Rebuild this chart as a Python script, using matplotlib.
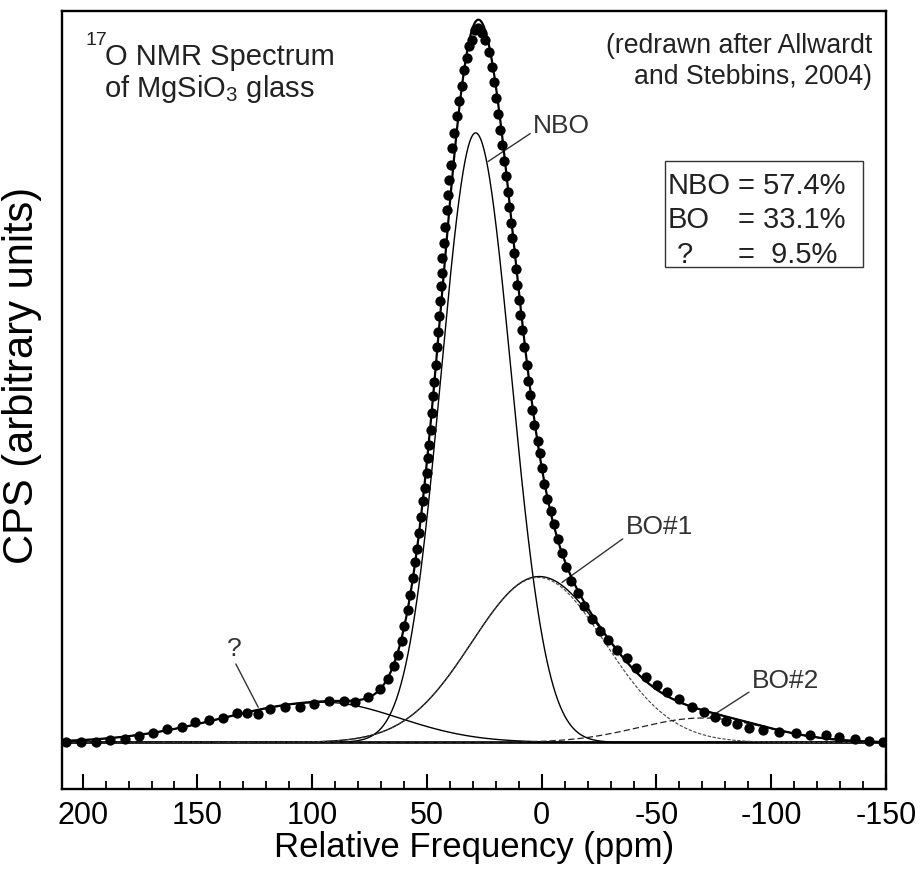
import matplotlib
matplotlib.use('Agg')
import matplotlib.pyplot as plt
from matplotlib.patches import Rectangle
import numpy as np

plt.rcParams['font.family'] = ['Liberation Sans', 'DejaVu Sans']
plt.rcParams['mathtext.fontset'] = 'custom'
plt.rcParams['mathtext.rm'] = 'Liberation Sans'
plt.rcParams['mathtext.it'] = 'Liberation Sans:italic'

dot_ppm = [207.4, 200.9, 194.3, 188.1, 181.6, 175.5, 169.2, 163.1, 156.9, 151.1,
           144.8, 138.7, 132.9, 128.3, 123.5, 118.4, 111.9, 105.3, 99.2, 92.8,
           86.1, 81.4, 75.6, 70.5, 66.8, 64.4, 62.5, 61.0, 59.9, 58.3,
           57.3, 56.2, 55.3, 54.2, 53.3, 52.6, 51.9, 50.8, 50.1, 49.7,
           49.0, 48.4, 47.9, 47.5, 46.8, 46.1, 45.8, 45.1, 44.8, 44.3,
           44.0, 43.6, 43.3, 42.7, 42.1, 41.3, 40.7, 40.3, 39.7, 39.0,
           38.1, 37.0, 36.0, 34.9, 33.7, 32.7, 31.5, 30.5, 29.0, 27.6,
           26.2, 24.7, 23.0, 21.8, 20.7, 19.9, 19.2, 18.2, 17.2, 16.4,
           15.7, 14.8, 14.2, 13.4, 12.8, 11.9, 11.3, 10.6, 9.9, 9.5,
           8.7, 7.6, 6.5, 5.8, 5.1, 4.1, 3.2, 1.7, 0.7, -0.3,
           -1.1, -2.4, -3.9, -5.4, -7.0, -8.7, -10.6, -12.8, -15.7, -18.4,
           -22.0, -25.4, -29.0, -32.9, -37.0, -41.1, -45.4, -50.1, -54.7, -59.8,
           -65.4, -70.7, -75.5, -80.3, -85.0, -90.5, -96.6, -103.4, -110.6, -116.9,
           -123.9, -129.7, -136.5, -142.8, -148.8]
dot_cps = [0.0, 0.1, 0.1, 0.3, 0.5, 0.9, 1.3, 1.8, 2.1, 2.8,
           3.1, 3.4, 4.1, 4.1, 4.0, 4.6, 4.9, 5.0, 5.4, 5.8,
           5.8, 5.7, 6.3, 7.4, 8.8, 10.6, 12.2, 14.2, 16.3, 18.5,
           20.6, 22.9, 25.1, 27.0, 29.2, 31.4, 33.6, 35.5, 37.6, 39.7,
           41.5, 43.6, 45.9, 48.3, 50.3, 52.7, 55.2, 57.3, 59.4, 61.6,
           63.7, 65.4, 67.5, 69.7, 71.9, 74.3, 76.4, 78.5, 80.5, 82.9,
           85.0, 87.3, 89.5, 91.6, 93.8, 95.5, 97.1, 98.0, 99.3, 99.6,
           99.0, 97.9, 96.3, 94.2, 92.1, 89.8, 87.6, 85.4, 83.3, 81.1,
           79.0, 76.8, 74.7, 72.5, 70.4, 68.2, 66.0, 63.8, 61.7, 59.6,
           57.5, 55.2, 52.6, 50.4, 48.4, 46.4, 44.3, 42.1, 40.3, 38.2,
           36.0, 33.9, 32.3, 30.4, 28.4, 26.4, 24.4, 22.5, 20.8, 19.0,
           17.2, 15.6, 14.3, 12.9, 11.7, 10.4, 9.1, 8.0, 7.0, 6.0,
           5.0, 4.2, 3.6, 3.0, 2.5, 2.0, 1.7, 1.4, 1.3, 1.1,
           1.1, 0.7, 0.5, 0.2, 0.1]

# fitted Gaussian components: position, height, half-widths (left / right side)
comp_names = ['NBO', 'BO#1', 'BO#2', '?']
comp_center = [28.8, 1.5, -70.0, 95.0]
comp_height = [85.0, 23.0, 3.4, 5.6]
comp_sigma_left = [15.0, 29.0, 28.0, 44.0]
comp_sigma_right = [15.5, 29.0, 28.0, 33.0]

# component fractions printed in the box
frac_labels = ['NBO', 'BO', '?']
frac_values = ['= 57.4%', '= 33.1%', '=  9.5%']

W, H = 922, 873
TXT = '#222222'


def gauss(x, c, h, sl, sr):
    s = np.where(x > c, sl, sr)
    return h * np.exp(-(x - c) ** 2 / (2 * s ** 2))


def fx(px):
    return px / W


def fy(py):
    return 1 - py / H


x = np.linspace(209, -150, 1500)
comps = {n: gauss(x, c, h, sl, sr) for n, c, h, sl, sr in
         zip(comp_names, comp_center, comp_height, comp_sigma_left, comp_sigma_right)}
bo_total = comps['BO#1'] + comps['BO#2']
total = comps['NBO'] + bo_total + comps['?']

fig = plt.figure(figsize=(W / 100, H / 100), dpi=100)
ax = fig.add_axes([fx(62), fy(789), fx(886) - fx(62), fy(11) - fy(789)])

ax.axhline(0, color='black', lw=1.9, zorder=2)
ax.plot(x, comps['NBO'], color='black', lw=1.0, zorder=3)
ax.plot(x, comps['?'], color='black', lw=1.0, zorder=3)
ax.plot(x, bo_total, color='black', lw=1.0, zorder=3)
ax.plot(x, comps['BO#1'], color='#444444', lw=0.8, ls=(0, (3, 1.5)), zorder=3)
ax.plot(x, comps['BO#2'], color='#222222', lw=0.9, ls=(0, (5, 2.5)), zorder=3)
ax.plot(x, total, color='black', lw=1.6, zorder=4)
ax.plot(dot_ppm, dot_cps, 'o', color='black', ms=7.4, mec='none', zorder=5)

ax.set_xlim(209, -150)
ax.set_ylim(-6.5, 102.0)
ax.set_xticks(np.arange(200, -151, -50))
ax.set_xticks(np.arange(200, -151, -10), minor=True)
ax.set_xticklabels([str(v) for v in range(200, -151, -50)])
ax.set_yticks([])
ax.tick_params(axis='x', which='both', direction='in', top=False, labelsize=22, pad=9)
ax.tick_params(axis='x', which='major', length=11, width=1.5)
ax.tick_params(axis='x', which='minor', length=6, width=1.3)
for sp in ax.spines.values():
    sp.set_linewidth(1.7)

ax.set_xlabel('Relative Frequency (ppm)', fontsize=25, labelpad=0)
ax.set_ylabel('CPS (arbitrary units)', fontsize=30)
ax.yaxis.set_label_coords(-0.024, 0.532)

# labels with leader lines
line_kw = dict(arrowstyle='-', color='#333333', lw=1.0, shrinkA=0, shrinkB=0)
ax.annotate('NBO', xy=(23.4, 81.0), xytext=(3.8, 86.0), fontsize=19, color='#333333',
            va='center', ha='left', arrowprops=dict(relpos=(0, 0.25), **line_kw))
ax.annotate('BO#1', xy=(-8.8, 22.3), xytext=(-36.5, 30.0), fontsize=19, color='#333333',
            va='center', ha='left', arrowprops=dict(relpos=(0, 0.1), **line_kw))
ax.annotate('BO#2', xy=(-73.3, 3.5), xytext=(-91.5, 8.6), fontsize=19, color='#333333',
            va='center', ha='left', arrowprops=dict(relpos=(0, 0.1), **line_kw))
ax.annotate('?', xy=(123.5, 4.9), xytext=(133.9, 13.0), fontsize=19, color='#333333',
            va='center', ha='center', arrowprops=dict(relpos=(0.5, 0), **line_kw))

# header texts
fig.text(fx(85), fy(45), '17', fontsize=14, ha='left', va='baseline', color=TXT)
fig.text(fx(105), fy(65), 'O NMR Spectrum', fontsize=21, ha='left', va='baseline', color=TXT)
fig.text(fx(104), fy(97), r'of MgSiO$_3$ glass', fontsize=21, ha='left',
         va='baseline', color=TXT)
fig.text(fx(872), fy(53), '(redrawn after Allwardt', fontsize=19.2, ha='right',
         va='baseline', color=TXT)
fig.text(fx(872), fy(84), 'and Stebbins, 2004)', fontsize=19.2, ha='right',
         va='baseline', color=TXT)

# fraction box
fig.add_artist(Rectangle((fx(665), fy(267)), fx(863) - fx(665), fy(161) - fy(267),
                         transform=fig.transFigure, fill=False, ec='#333333', lw=1.0))
renderer = fig.canvas.get_renderer()
first = fig.text(fx(668), fy(194), frac_labels[0], fontsize=21, va='baseline', color=TXT)
eq_px = first.get_window_extent(renderer).x1 + 7
label_x = [None, 668, 677]
for i, (lab, val) in enumerate(zip(frac_labels, frac_values)):
    base = 194 + 34.5 * i
    if i > 0:
        fig.text(fx(label_x[i]), fy(base), lab, fontsize=21, va='baseline', color=TXT)
    fig.text(eq_px / W, fy(base), val, fontsize=21, va='baseline', color=TXT)

fig.savefig('out.png', dpi=100)
